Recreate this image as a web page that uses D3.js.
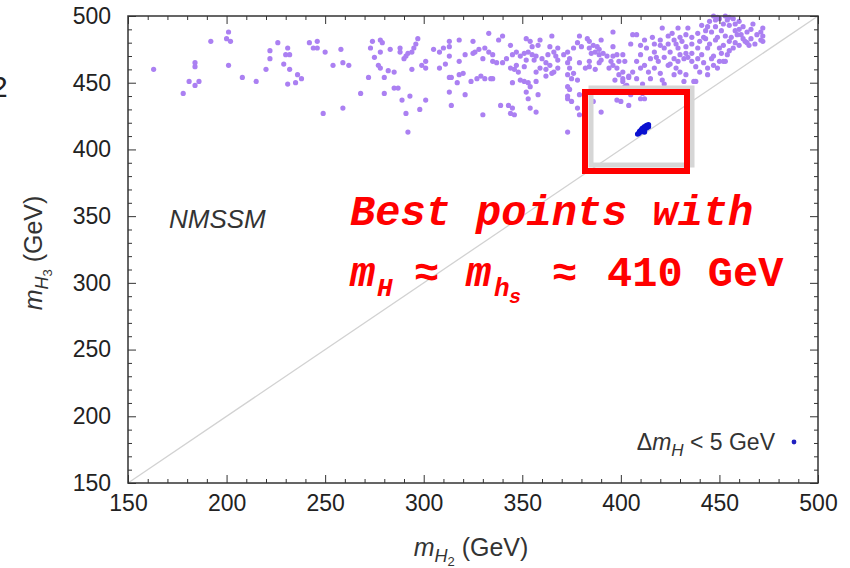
<!DOCTYPE html>
<html><head><meta charset="utf-8">
<script src="https://cdn.jsdelivr.net/npm/d3@7"></script>
<style>
body{margin:0;background:#fff;}
svg{display:block;}
</style></head>
<body>
<svg id="chart" width="850" height="568"></svg>
<script>
// ---- data ----
const xTicks = [150,200,250,300,350,400,450,500];
const yTicks = [150,200,250,300,350,400,450,500];
const xDomain = [150,500];
const yDomain = [150,500];
const diagonal = [[150,150],[500,500]];
const purplePoints = [
[163,460],[178,442],[181,451],[184,448],[186,451],[184,462],[184,465],[192,481],[201,488],[200,483],[202,481],[201,463],[208,454],[215,451],[220,460],[222,474],[222,468],[226,480],[231,476],[230,471],[232,471],[229,464],[232,460],[236,456],[238,453],[231,449],[235,450],
[242,480],[246,481],[244,476],[246,476],[250,473],[258,475],[254,463],[259,465],[262,463],[249,427],[259,431],[268,442],[272,454],[274,481],[278,482],[279,480],[273,476],[278,473],[275,469],[277,463],[278,461],[280,454],[283,475],[282,459],[285,458],[280,442],[285,446],[287,446],[288,476],[288,473],[290,468],[291,470],[292,472],[294,473],[295,476],[296,479],[297,483],[294,460],[289,437],[293,440],[291,427],[292,413],[298,430],[301,437],[299,463],[301,466],[301,461],[305,475],[308,473],[310,476],[313,481],[313,477],[308,461],[311,464],[313,470],[318,482],[318,466],[321,471],[325,481],[325,472],[313,454],[314,454],[318,456],[320,457],[317,450],[324,451],[313,443],[321,441],[314,433],
[333,487],[338,482],[340,485],[331,476],[328,475],[333,473],[326,473],[335,471],[330,468],[335,466],[337,465],[340,465],[344,478],[342,468],[345,471],[347,473],[349,470],[351,472],[353,473],[355,477],[355,471],[356,467],[352,467],[351,462],[347,463],[346,460],[348,458],[344,461],[352,483],[359,482],[358,478],[354,481],[357,470],[360,468],[362,465],[359,461],[357,458],[364,477],[365,485],[368,476],[366,473],[363,471],[367,470],[368,467],[364,463],[362,460],[366,458],[362,455],[365,457],[368,461],[329,455],[331,453],[334,453],[335,453],[327,453],[345,450],[349,452],[351,451],[353,450],[357,451],[354,447],[352,443],[353,438],[358,441],[339,433],[343,433],[345,431],[344,427],[346,426],[354,431],[357,428],[330,426],[371,471],[373,473],[374,468],[376,476],[378,480],[379,485],[380,477],[383,483],[384,476],[386,478],[388,477],[389,475],[387,473],[385,472],[373,465],[374,461],[376,457],[373,456],[378,452],[375,453],[373,447],[374,445],[373,438],[375,436],[373,440],[378,431],[379,441],[379,426],[373,413],[382,437],[386,436],[390,428],[398,437],[400,436],[379,465],[382,461],[384,466],[384,462],[387,460],[389,465],[390,467],[389,471],[391,472],[393,470],[395,466],[396,470],[398,471],[399,466],[396,463],[394,461],[398,461],[399,456],[397,452],[401,458],[401,451],[403,448],[404,455],[402,466],[401,471],[396,477],[396,488],[390,482],[384,481],[404,433],[410,438],
[421,491],[429,491],[434,491],[406,486],[408,486],[424,485],[405,479],[410,478],[413,476],[417,479],[417,473],[420,478],[422,476],[425,473],[428,479],[429,476],[431,481],[433,477],[433,472],[436,479],[439,476],[440,481],[442,484],[443,489],[444,492],[445,496],[448,497],[450,498],[452,494],[454,497],[455,493],[457,498],[458,489],[459,486],[456,484],[455,481],[452,478],[450,476],[448,482],[445,479],[444,476],[441,471],[439,468],[436,466],[434,469],[432,468],[429,466],[427,468],[424,463],[422,469],[419,466],[417,461],[415,468],[412,463],[410,471],[408,466],[406,458],[404,454],[401,453],[408,453],[411,449],[415,453],[421,452],[422,449],[427,456],[430,458],[433,456],[432,451],[438,451],[440,458],[444,461],[447,463],[450,466],[453,466],[454,471],[457,476],[460,478],[463,481],[465,478],[466,483],[469,486],[471,488],[472,491],[471,482],[468,479],[464,488],[462,492],[460,496],[461,486],[449,499],[455,499],[438,462],[402,447],[405,441],[411,442],[412,438],[437,451],[452,466],[472,481],[472,485],[464,480],
[446,488],[448,492],[451,489],[453,485],[449,484],[443,483],[447,470],[451,472],[455,474],[458,480],[460,490],[462,483],[466,490],[467,494],[458,494],[453,500],[447,500],[441,493],[439,487],[436,484],[433,486],[430,484],[426,487],[427,482],[424,479],[420,482],[416,484],[412,482],[418,469],[425,464],[430,471],[436,472],[442,465],[446,468],[449,461],[444,456],[428,461],[420,457],[414,458],[410,461]
];
const bluePoints = [[409,412],[410,413],[411,414],[412,415],[413,416],[414,417],[410,414],[412,413],[413,418],[411,416],[409.5,413.5],[414,418.5],[412,417],[410.5,415],[408.5,411.5]];
const legendLabel = " < 5 GeV";

// ---- layout ----
const svg = d3.select("#chart");
const L = 128, R = 818, T = 16, B = 483;
const x = d3.scaleLinear().domain(xDomain).range([L, R]);
const y = d3.scaleLinear().domain(yDomain).range([B, T]);
const minorX = d3.range(150, 501, 10).filter(v => !xTicks.includes(v));
const minorY = d3.range(150, 501, 10).filter(v => !yTicks.includes(v));
const axisColor = "#333";
const font = "Liberation Sans, Arial, Helvetica, sans-serif";

// diagonal
svg.append("line")
  .attr("x1", x(diagonal[0][0])).attr("y1", y(diagonal[0][1]))
  .attr("x2", x(diagonal[1][0])).attr("y2", y(diagonal[1][1]))
  .attr("stroke", "#d2d2d2").attr("stroke-width", 1.3);

// points
svg.append("g").selectAll("circle").data(purplePoints).join("circle")
  .attr("cx", d => x(d[0])).attr("cy", d => y(d[1])).attr("r", 2.6)
  .attr("fill", "#ab80f2");

// axes
function styleAxis(g){
  g.select(".domain").remove();
  g.selectAll("line").attr("stroke", axisColor).attr("stroke-width", 1);
  g.selectAll("text").attr("fill", "#222").style("font-family", font).style("font-size", "23px");
}
svg.append("g").attr("transform", `translate(0,${B})`)
  .call(d3.axisBottom(x).tickValues(xTicks).tickSize(-8).tickPadding(12).tickFormat(d3.format("d")))
  .call(styleAxis);
svg.append("g").attr("transform", `translate(0,${B})`)
  .call(d3.axisBottom(x).tickValues(minorX).tickSize(-4).tickFormat(""))
  .call(styleAxis);
svg.append("g").attr("transform", `translate(0,${T})`)
  .call(d3.axisTop(x).tickValues(xTicks).tickSize(-8).tickFormat(""))
  .call(styleAxis);
svg.append("g").attr("transform", `translate(0,${T})`)
  .call(d3.axisTop(x).tickValues(minorX).tickSize(-4).tickFormat(""))
  .call(styleAxis);
svg.append("g").attr("transform", `translate(${L},0)`)
  .call(d3.axisLeft(y).tickValues(yTicks).tickSize(-8).tickPadding(17).tickFormat(d3.format("d")))
  .call(styleAxis);
svg.append("g").attr("transform", `translate(${L},0)`)
  .call(d3.axisLeft(y).tickValues(minorY).tickSize(-4).tickFormat(""))
  .call(styleAxis);
svg.append("g").attr("transform", `translate(${R},0)`)
  .call(d3.axisRight(y).tickValues(yTicks).tickSize(-8).tickFormat(""))
  .call(styleAxis);
svg.append("g").attr("transform", `translate(${R},0)`)
  .call(d3.axisRight(y).tickValues(minorY).tickSize(-4).tickFormat(""))
  .call(styleAxis);

// frame
svg.append("rect").attr("x", L).attr("y", T).attr("width", R - L).attr("height", B - T)
  .attr("fill", "none").attr("stroke", axisColor).attr("stroke-width", 1.5);

// axis titles
const xt = svg.append("text").attr("x", 471).attr("y", 556).attr("text-anchor", "middle")
  .style("font-family", font).style("font-size", "25px").attr("fill", "#333");
xt.append("tspan").text("m").style("font-style", "italic");
xt.append("tspan").text("H").style("font-style", "italic").style("font-size", "18px").attr("dy", 6);
xt.append("tspan").text("2").style("font-size", "13px").attr("dy", 4);
xt.append("tspan").text(" (GeV)").attr("dy", -10);

const yt = svg.append("text").attr("transform", "translate(42,253) rotate(-90)").attr("text-anchor", "middle")
  .style("font-family", font).style("font-size", "25px").attr("fill", "#333");
yt.append("tspan").text("m").style("font-style", "italic");
yt.append("tspan").text("H").style("font-style", "italic").style("font-size", "18px").attr("dy", 6);
yt.append("tspan").text("3").style("font-size", "13px").attr("dy", 4);
yt.append("tspan").text(" (GeV)").attr("dy", -10);

// NMSSM label
svg.append("text").attr("x", 169).attr("y", 228).text("NMSSM")
  .style("font-family", font).style("font-size", "26px").style("font-style", "italic").attr("fill", "#333");

// legend
const lg = svg.append("text").attr("x", 775).attr("y", 450).attr("text-anchor", "end")
  .style("font-family", font).style("font-size", "23px").attr("fill", "#333");
lg.append("tspan").text("Δ");
lg.append("tspan").text("m").style("font-style", "italic");
lg.append("tspan").text("H").style("font-style", "italic").style("font-size", "17px").attr("dy", 6);
lg.append("tspan").text(legendLabel).attr("dy", -6);
svg.append("circle").attr("cx", 794).attr("cy", 442).attr("r", 2.4).attr("fill", "#2020c0");

// partial "2" at left edge (cut off in the reference too)
svg.append("text").attr("x", -9).attr("y", 97).text("2")
  .style("font-family", font).style("font-size", "30px").attr("fill", "#222");

// highlight box with shadow
svg.append("rect").attr("x", 591).attr("y", 88).attr("width", 101).attr("height", 77)
  .attr("fill", "none").attr("stroke", "#d6d6d6").attr("stroke-width", 5);
svg.append("rect").attr("x", 585).attr("y", 92).attr("width", 102).attr("height", 79)
  .attr("fill", "none").attr("stroke", "#ff0000").attr("stroke-width", 6);

// blue points (on top)
svg.append("g").selectAll("circle").data(bluePoints).join("circle")
  .attr("cx", d => x(d[0])).attr("cy", d => y(d[1])).attr("r", 2.7)
  .attr("fill", "#0a10d0");

// red annotation
const mono = "'Liberation Mono', 'Courier New', Courier, monospace";
function red(xp, yp, txt, size, italic){
  return svg.append("text").attr("x", xp).attr("y", yp).text(txt)
    .style("font-family", mono).style("font-size", size + "px")
    .style("font-weight", "bold").style("font-style", italic ? "italic" : "normal").attr("fill", "#ff0000");
}
red(350, 225, "Best points with", 42, true);
red(350, 286, "m", 42, true);
red(377, 296, "H", 26, true);
red(414, 286, "≈", 42, false);
red(466, 286, "m", 42, true);
red(494, 296, "h", 26, true);
red(509, 303, "s", 20, true);
red(552, 286, "≈", 42, false);
red(607, 286, "410 GeV", 42, false);
</script>
</body></html>
